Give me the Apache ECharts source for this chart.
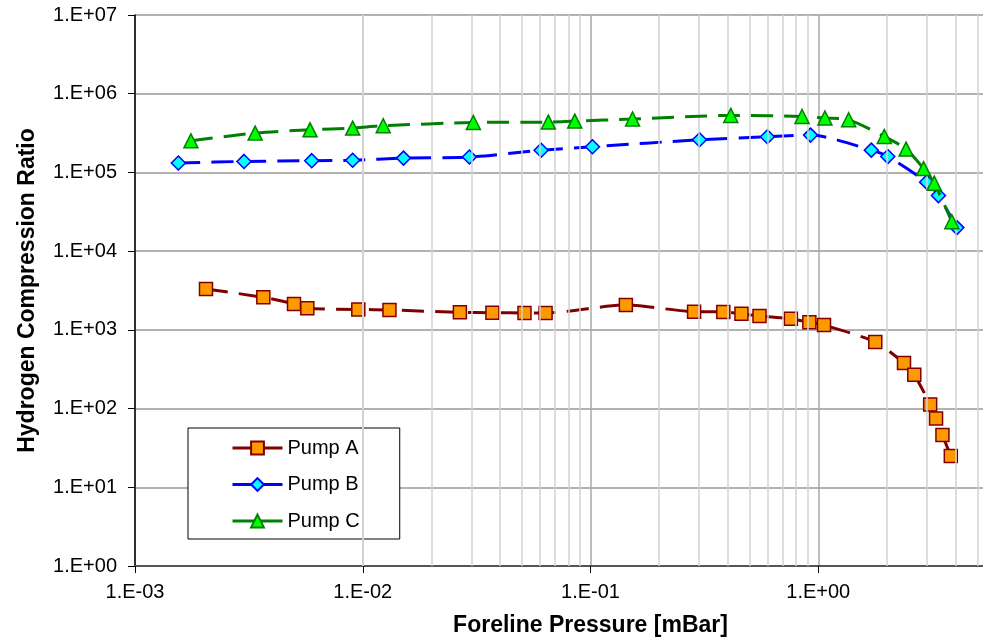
<!DOCTYPE html>
<html>
<head>
<meta charset="utf-8">
<script src="https://cdn.jsdelivr.net/npm/echarts@6/dist/echarts.min.js"></script>
<style>
html,body{margin:0;padding:0;background:#fff;}
#chart{width:983px;height:640px;}
</style>
</head>
<body>
<div id="chart"></div>
<script>
// ---- data ----
const seriesNames = ['Pump A', 'Pump B', 'Pump C'];

const pumpA_x = [2.05e-3, 3.66e-3, 4.99e-3, 5.71e-3, 9.56e-3, 1.31e-2, 2.67e-2, 3.71e-2, 5.13e-2, 6.35e-2, 0.143, 0.285, 0.383, 0.460, 0.552, 0.758, 0.914, 1.06, 1.78, 2.38, 2.64, 3.10, 3.29, 3.51, 3.82];
const pumpA_y = [3300, 2590, 2130, 1880, 1820, 1790, 1670, 1650, 1640, 1640, 2070, 1700, 1690, 1600, 1500, 1380, 1250, 1150, 700, 378, 268, 113, 75, 46, 25];

const pumpB_x = [1.55e-3, 3.01e-3, 5.97e-3, 9.03e-3, 1.51e-2, 2.94e-2, 6.07e-2, 0.102, 0.301, 0.598, 0.925, 1.71, 2.02, 2.99, 3.37, 4.06];
const pumpB_y = [1.32e5, 1.38e5, 1.41e5, 1.43e5, 1.52e5, 1.57e5, 1.91e5, 2.12e5, 2.60e5, 2.84e5, 2.98e5, 1.92e5, 1.59e5, 7.53e4, 5.08e4, 1.99e4];

const pumpC_x = [1.76e-3, 3.37e-3, 5.87e-3, 9.03e-3, 1.23e-2, 3.06e-2, 6.53e-2, 8.53e-2, 0.153, 0.413, 0.849, 1.07, 1.36, 1.95, 2.43, 2.90, 3.23, 3.86];
const pumpC_y = [2.52e5, 3.16e5, 3.48e5, 3.66e5, 3.92e5, 4.31e5, 4.36e5, 4.49e5, 4.77e5, 5.30e5, 5.14e5, 4.91e5, 4.67e5, 2.86e5, 1.98e5, 1.12e5, 7.31e4, 2.37e4];

const xMin = 1e-3, xMax = 10;
const yMin = 1, yMax = 1e7;
const xTitle = 'Foreline Pressure [mBar]';
const yTitle = 'Hydrogen Compression Ratio';

// minor vertical gridline values (2..9 within each decade)
const minorDecades = [1e-3, 1e-2, 1e-1, 1];
const minorMultipliers = [2, 3, 4, 5, 6, 7, 8, 9];

// ---- build ----
const FONT = 'Arial, "Liberation Sans", sans-serif';
function zip(xs, ys) { return xs.map((x, i) => [x, ys[i]]); }
function sciLabel(v) {
  const e = Math.round(Math.log10(v));
  if (Math.abs(Math.log10(v) - e) > 1e-6) return '';
  return '1.E' + (e < 0 ? '-' : '+') + String(Math.abs(e)).padStart(2, '0');
}
const minorX = [];
minorDecades.forEach(d => minorMultipliers.forEach(m => minorX.push(+(d * m).toPrecision(3))));

const lineW = 3;
const dash = [22, 11];

const chart = echarts.init(document.getElementById('chart'), null, {renderer: 'canvas'});
chart.setOption({
  animation: false,
  backgroundColor: '#ffffff',
  textStyle: {fontFamily: FONT},
  grid: {left: 135, top: 15, width: 911, height: 551, containLabel: false, outerBoundsMode: 'none'},
  legend: {
    orient: 'vertical',
    left: 188, top: 428,
    data: seriesNames,
    backgroundColor: '#ffffff',
    borderColor: '#000000',
    borderWidth: 1,
    borderRadius: 0,
    padding: [10, 40, 8, 43],
    itemWidth: 50,
    itemHeight: 16,
    itemGap: 16.5,
    lineStyle: {type: 'solid', width: 3},
    textStyle: {fontSize: 20, color: '#000', fontFamily: FONT}
  },
  xAxis: {
    type: 'log', logBase: 10, min: xMin, max: xMax,
    name: xTitle, nameLocation: 'middle', nameGap: 48,
    nameTextStyle: {fontSize: 23, fontWeight: 'bold', color: '#000', fontFamily: FONT},
    axisLine: {show: true, lineStyle: {color: '#555', width: 2}},
    axisTick: {show: true, inside: false, length: 7, lineStyle: {color: '#000', width: 1}},
    axisLabel: {fontSize: 20, color: '#000', margin: 16, formatter: sciLabel, fontFamily: FONT},
    splitLine: {show: true, lineStyle: {color: '#a8a8a8', width: 1.5}},
    minorTick: {show: false}, minorSplitLine: {show: false}
  },
  yAxis: {
    type: 'log', logBase: 10, min: yMin, max: yMax,
    name: yTitle, nameLocation: 'middle', nameGap: 96,
    nameTextStyle: {fontSize: 23, fontWeight: 'bold', color: '#000', fontFamily: FONT},
    axisLine: {show: true, lineStyle: {color: '#000', width: 1.5}},
    axisTick: {show: true, inside: false, length: 7, lineStyle: {color: '#000', width: 1}},
    axisLabel: {fontSize: 20, color: '#000', margin: 18, formatter: sciLabel, fontFamily: FONT},
    splitLine: {show: true, lineStyle: {color: '#999', width: 1.5}}
  },
  series: [
    {
      name: 'minor-grid', type: 'line', data: [], z: 1, silent: true,
      markLine: {
        silent: true, symbol: ['none', 'none'], animation: false,
        label: {show: false},
        lineStyle: {color: '#d2d2d2', width: 1.5, type: 'solid'},
        emphasis: {disabled: true},
        data: minorX.map(v => ({xAxis: v}))
      }
    },
    {
      name: seriesNames[0], type: 'line', data: zip(pumpA_x, pumpA_y), z: 3,
      smooth: 0.25,
      symbol: 'rect', symbolSize: 13,
      lineStyle: {color: '#800000', width: lineW, type: dash},
      itemStyle: {color: '#FF9900', borderColor: '#800000', borderWidth: 1.5}
    },
    {
      name: seriesNames[1], type: 'line', data: zip(pumpB_x, pumpB_y), z: 4,
      smooth: 0.25,
      symbol: 'diamond', symbolSize: 14,
      lineStyle: {color: '#0000FF', width: lineW, type: dash},
      itemStyle: {color: '#00FFFF', borderColor: '#0000FF', borderWidth: 1.5}
    },
    {
      name: seriesNames[2], type: 'line', data: zip(pumpC_x, pumpC_y), z: 5,
      smooth: 0.25,
      symbol: 'triangle', symbolSize: 14,
      lineStyle: {color: '#008000', width: lineW, type: dash},
      itemStyle: {color: '#00FF00', borderColor: '#008000', borderWidth: 1.5}
    }
  ]
});
</script>
</body>
</html>
